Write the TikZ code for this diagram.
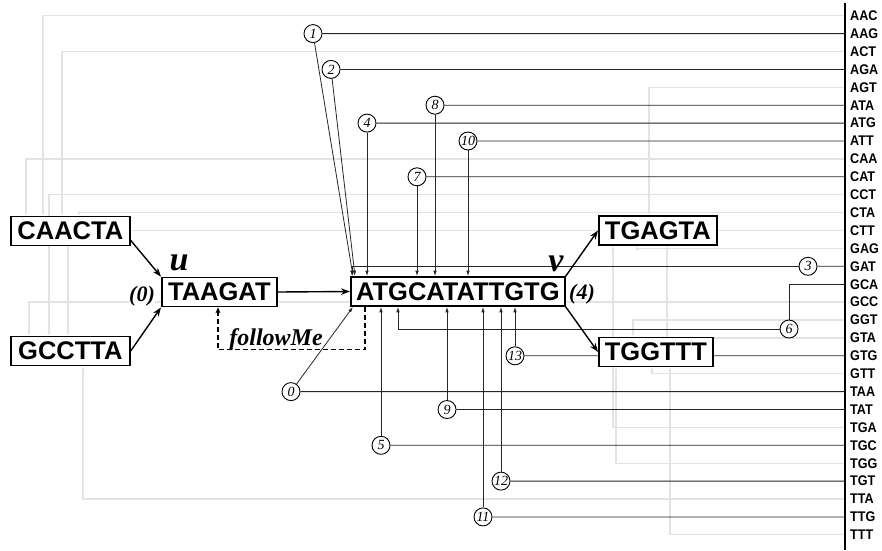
\documentclass[tikz,border=0pt]{standalone}
\usepackage{fontspec}
\setmainfont{Liberation Serif}
\newfontfamily\arialf{Liberation Sans}
\usetikzlibrary{arrows.meta}
\definecolor{faint}{gray}{0.89}
\definecolor{ink}{gray}{0.15}
\pgfdeclarelayer{bg}
\pgfsetlayers{bg,main}
\newcommand{\narrowtext}[1]{\scalebox{0.9}[1]{#1}}

\begin{document}
\begin{tikzpicture}[x=1pt,y=-1pt,
  kmer/.style={draw=black, line width=1.7pt, fill=white,
    font=\arialf\bfseries\fontsize{25.5}{26}\selectfont,
    inner xsep=2pt, inner ysep=0pt, minimum height=29pt, anchor=west},
  lab/.style={anchor=west, inner sep=0pt, font=\arialf\bfseries\fontsize{14}{14}\selectfont},
  posmark/.style={circle, draw=black, line width=0.9pt, fill=white, inner sep=0pt,
    minimum size=18pt, font=\itshape\fontsize{14}{14}\selectfont},
  gline/.style={draw=faint, line width=1.3pt, -{Latex[length=4pt,width=3.5pt]}},
  bline/.style={draw=ink, line width=0.8pt},
  barrow/.style={bline, -{Latex[length=5.5pt,width=3.5pt]}},
  gedge/.style={draw=black, line width=1.4pt, -{Stealth[length=9pt,width=6.5pt]}},
  tag/.style={inner sep=0pt, anchor=base, font=\bfseries\itshape\fontsize{22}{22}\selectfont},
  bigtag/.style={inner sep=0pt, anchor=base, font=\bfseries\itshape\fontsize{34}{34}\selectfont},
]
\useasboundingbox (0,0) rectangle (882,550);

% index bar with the 3-mer entries
\coordinate (bartop) at (845,3);
\coordinate (barbot) at (845,550);
\draw[line width=2pt] (bartop) -- (barbot);
\foreach \t [count=\i from 0] in {AAC,AAG,ACT,AGA,AGT,ATA,ATG,ATT,CAA,CAT,CCT,CTA,CTT,GAG,GAT,GCA,GCC,GGT,GTA,GTG,GTT,TAA,TAT,TGA,TGC,TGG,TGT,TTA,TTG,TTT}{
  \pgfmathsetmacro\yy{15.7+17.9*\i}
  \node[lab] (l\t) at (850,\yy) {\narrowtext{\t}};
  \coordinate (\t) at (845,\yy);
}

% k-mer nodes
\node[kmer, minimum width=119pt] (CAACTA) at (10,231) {CAACTA};
\node[kmer, minimum width=119pt] (GCCTTA) at (10,351) {GCCTTA};
\node[kmer, minimum width=115pt] (TAAGAT) at (161,292) {TAAGAT};
\node[kmer, minimum width=214pt] (V) at (350,291.5) {ATGCATATTGTG};
\node[kmer, minimum width=118pt] (TGAGTA) at (598,230.5) {TGAGTA};
\node[kmer, minimum width=114pt] (TGGTTT) at (598,352) {TGGTTT};

% position markers
\node[posmark] (c0)  at (291,391.6) {0};
\node[posmark] (c1)  at (313,33.6)  {1};
\node[posmark] (c2)  at (331,69.4)  {2};
\node[posmark] (c3)  at (808,266.3) {3};
\node[posmark] (c4)  at (367,123.1) {4};
\node[posmark] (c5)  at (381,445.3) {5};
\node[posmark] (c6)  at (789,329)   {6};
\node[posmark] (c7)  at (417,176.8) {7};
\node[posmark] (c8)  at (435,105.2) {8};
\node[posmark] (c9)  at (447,409.5) {9};
\node[posmark] (c10) at (468,141)   {10};
\node[posmark] (c11) at (483,516.9) {11};
\node[posmark] (c12) at (501,481.1) {12};
\node[posmark] (c13) at (515,355.8) {13};

\begin{pgfonlayer}{bg}
  % 3-mers of the other nodes
  \draw[gline] (AAC) -| ([xshift=33pt]CAACTA.north west);
  \draw[gline] (ACT) -| ([xshift=52pt]CAACTA.north west);
  \draw[gline] (CAA) -| ([xshift=16pt]CAACTA.north west);
  \draw[gline] (CTA) -| ([xshift=69pt]CAACTA.north west);
  \draw[gline] (GCC) -| ([xshift=19pt]GCCTTA.north west);
  \draw[gline] (CCT) -| ([xshift=39pt]GCCTTA.north west);
  \draw[gline] (CTT) -| ([xshift=58pt]GCCTTA.north west);
  \draw[gline] (TTA) -| ([xshift=73pt]GCCTTA.south west);
  \draw[gline] (AGT) -| ([xshift=51pt]TGAGTA.north west);
  \draw[gline] (GAG) -| ([xshift=39pt]TGAGTA.south west);
  \draw[gline] (GTA) -| ([xshift=69pt]TGAGTA.south west);
  \draw[gline] (TGA) -| ([xshift=15pt]TGAGTA.south west);
  \draw[gline] (GGT) -| ([xshift=35pt]TGGTTT.north west);
  \draw[gline] (TGG) -| ([xshift=18pt]TGGTTT.south west);
  \draw[gline] (GTT) -| ([xshift=54pt]TGGTTT.south west);
  \draw[gline] (TTT) -| ([xshift=72pt]TGGTTT.south west);

  % 3-mers of the merged sequence
  \draw[bline] (TAA) -- (c0);
  \draw[bline] (AAG) -- (c1);
  \draw[bline] (AGA) -- (c2);
  \draw[bline] (GAT) -- (c3);
  \draw[bline] (ATG) -- (c4);
  \draw[bline] (TGC) -- (c5);
  \draw[bline] (GCA) -| (c6);
  \draw[bline] (CAT) -- (c7);
  \draw[bline] (ATA) -- (c8);
  \draw[bline] (TAT) -- (c9);
  \draw[bline] (ATT) -- (c10);
  \draw[bline] (TTG) -- (c11);
  \draw[bline] (TGT) -- (c12);
  \draw[bline] (GTG) -- (c13);
\end{pgfonlayer}

\draw[barrow] (c0) -- ([xshift=3pt]V.south west);
\draw[barrow] (c1) -- ([xshift=3pt]V.north west);
\draw[barrow] (c2) -- ([xshift=5pt]V.north west);
\draw[barrow] (c3) -| ([xshift=2pt]V.north west);
\draw[barrow] (c4) -- (c4 |- V.north);
\draw[barrow] (c5) -- (c5 |- V.south);
\draw[barrow] (c6) -| ([xshift=48pt]V.south west);
\draw[barrow] (c7) -- (c7 |- V.north);
\draw[barrow] (c8) -- (c8 |- V.north);
\draw[barrow] (c9) -- (c9 |- V.south);
\draw[barrow] (c10) -- (c10 |- V.north);
\draw[barrow] (c11) -- (c11 |- V.south);
\draw[barrow] (c12) -- (c12 |- V.south);
\draw[barrow] (c13) -- (c13 |- V.south);

% graph edges
\draw[gedge] ([yshift=6pt]CAACTA.south east) -- (TAAGAT.north west);
\draw[gedge] (GCCTTA.east) -- (TAAGAT.south west);
\draw[gedge] (TAAGAT.east) -- (V.west);
\draw[gedge] (V.north east) -- (TGAGTA.west);
\draw[gedge] (V.south east) -- (TGGTTT.west);

% followMe link
\draw[line width=1.1pt, dash pattern=on 5pt off 3pt, -{Stealth[length=6pt,width=5pt]}]
  ([xshift=15pt]V.south west) -- ++(0,43) -| ([xshift=57pt]TAAGAT.south west);
\node[inner sep=0pt, anchor=base, font=\bfseries\itshape\fontsize{24}{24}\selectfont] (fm) at (276,345) {followMe};

% labels
\node[bigtag] (lu) at (179,270) {u};
\node[bigtag] (lv) at (556,271) {v};
\node[tag, fill=white] (p0) at (142,301) {(0)};
\node[tag] (p4) at (582,299) {(4)};
\end{tikzpicture}
\end{document}
